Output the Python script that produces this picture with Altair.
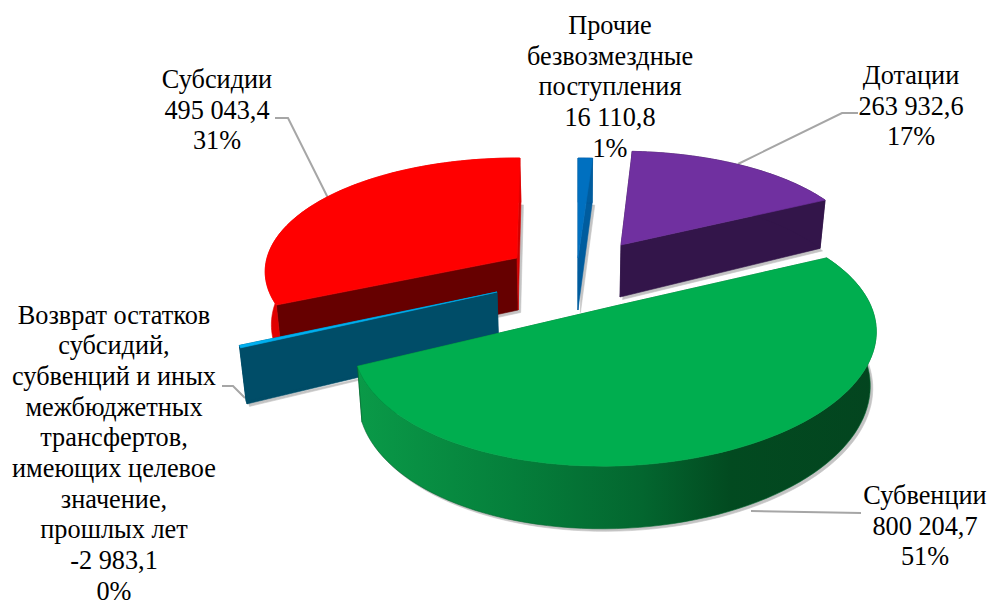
import numpy as np
import pandas as pd
import altair as alt

names = ["Дотации", "Субвенции", "Возврат", "Субсидии", "Прочие"]
values = [263932.6, 800204.7, -2983.1, 495043.4, 16110.8]
tops = ["#7030A0", "#00AE4F", "#00B0F0", "#FF0000", "#0070C0"]
start_faces = ["#33154A", "#036B30", "#004D68", "#660000", "#005C9E"]
end_faces = ["#33154A", "#036B30", "#004D68", "#D40000", "#005C9E"]
walls = ["#33154A", "#036B30", "#004D68", "#E00000", "#005C9E"]
draw_order = [4, 0, 3, 2, 1]

label_text = [
    "Дотации\n263 932,6\n17%",
    "Субвенции\n800 204,7\n51%",
    "Возврат остатков\nсубсидий,\nсубвенций и иных\nмежбюджетных\nтрансфертов,\nимеющих целевое\nзначение,\nпрошлых лет\n-2 983,1\n0%",
    "Субсидии\n495 043,4\n31%",
    "Прочие\nбезвозмездные\nпоступления\n16 110,8\n1%",
]
label_x = [911, 925, 114, 217, 610]
label_y = [84, 504, 323.5, 88, 34]

leaders = [
    ([738, 842, 858], [164, 113, 113]),
    ([751, 861], [511, 513]),
    ([245, 233, 222], [398, 386, 386]),
    ([328, 288, 275], [198, 118, 118]),
]

# drawing of the tilted, exploded pie: one perspective per slice
apex = [(621, 245), (615, 306), (497, 292), (517, 258), (578, 258)]
rx = [241, 253, 253, 250, 253]
ry = [105, 120, 120, 112, 112]
persp = [0.12, 0.25, 0.25, 0.12, 0.12]
shear = [0, -0.024, 0, 0, 0]
nudge0 = [0, 3.6, -0.4, 0, 0.7]
nudge1 = [0, 0.4, 0, 1.4, 0.7]
ROT = 3.0
DEPTH, DEPTH_K, DRIFT = 52.0, 0.17, 0.02

XD = alt.Scale(domain=[8, 987], range=[0, 979], nice=False, zero=False)
YD = alt.Scale(domain=[8, 610], range=[0, 602], nice=False, zero=False)


def rim(i, t, drop=False):
    ax, ay = apex[i]
    t = np.radians(t)
    u, v = np.sin(t), np.cos(t)
    w = 1 + persp[i] * v
    dx = rx[i] * u / w
    x = ax + dx
    y = ay - ry[i] * v / w + shear[i] * dx
    if drop:
        x = x - DRIFT * (x - 575)
        y = y + DEPTH / (1 + DEPTH_K * v)
    return x, y


def poly(xs, ys, fill, stroke=None):
    xs = list(xs) + [xs[0]]
    ys = list(ys) + [ys[0]]
    df = pd.DataFrame({"x": xs, "y": ys, "o": range(len(xs))})
    sc = stroke if stroke else (fill if isinstance(fill, str) else "#03662f")
    return alt.Chart(df).mark_line(fill=fill, stroke=sc, strokeWidth=0.6, interpolate="linear").encode(
        x=alt.X("x:Q", scale=XD, axis=None),
        y=alt.Y("y:Q", scale=YD, axis=None),
        order=alt.Order("o:Q"),
    )


total = sum(abs(v) for v in values)
edges = ROT + np.cumsum([0] + [abs(v) / total * 360 for v in values])

green_grad = alt.Gradient(
    gradient="linear", x1=0, x2=1, y1=0, y2=0,
    stops=[
        alt.GradientStop(offset=0, color="#0A9A48"),
        alt.GradientStop(offset=0.3, color="#057F3B"),
        alt.GradientStop(offset=0.55, color="#03662F"),
        alt.GradientStop(offset=0.72, color="#024A20"),
        alt.GradientStop(offset=1, color="#03451F"),
    ],
)

layers = []
for xs, ys in leaders:
    df = pd.DataFrame({"x": xs, "y": ys, "o": range(len(xs))})
    layers.append(alt.Chart(df).mark_line(color="#A6A6A6", strokeWidth=2).encode(
        x=alt.X("x:Q", scale=XD, axis=None), y=alt.Y("y:Q", scale=YD, axis=None), order="o:Q"))

for i in draw_order:
    ax, ay = apex[i]
    t0, t1 = edges[i] + nudge0[i], edges[i + 1] + nudge1[i]
    ts = np.linspace(t0, t1, 90)
    tx, ty = rim(i, ts)
    bx, by = rim(i, ts, True)
    bax = ax - DRIFT * (ax - 575)
    bay = ay + DEPTH
    layers.append(poly(list(bx + 2.5) + [bax + 2.5], list(by + 2.5) + [bay + 2.5], "#C4C4C4", "#C4C4C4"))
    for t, col in ((t0, start_faces[i]), (t1, end_faces[i])):
        fx, fy = rim(i, t)
        gx, gy = rim(i, t, True)
        layers.append(poly([ax, fx, gx, bax], [ay, fy, gy, bay], col))
    wall_fill = green_grad if i == 1 else walls[i]
    layers.append(poly(list(tx) + list(bx[::-1]), list(ty) + list(by[::-1]), wall_fill))
    layers.append(poly([ax] + list(tx), [ay] + list(ty), tops[i]))

labels = pd.DataFrame({"t": label_text, "x": label_x, "y": label_y})
layers.append(alt.Chart(labels).mark_text(
    font="Liberation Serif", fontSize=26.3, lineBreak="\n", lineHeight=30.7,
    align="center", baseline="alphabetic", color="#000000",
).encode(x=alt.X("x:Q", scale=XD, axis=None), y=alt.Y("y:Q", scale=YD, axis=None), text="t:N"))

chart = alt.layer(*layers).properties(
    width=979, height=602, padding=0, autosize=alt.AutoSizeParams(type="none"),
).configure_view(stroke=None).resolve_scale(x="shared", y="shared")

chart.save("out.html", embed_options={"renderer": "svg", "actions": False})
